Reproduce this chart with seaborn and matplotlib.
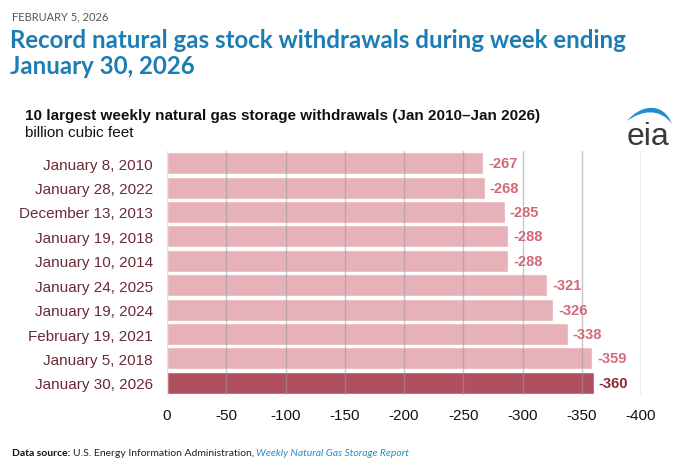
import matplotlib
matplotlib.use("Agg")
import matplotlib.pyplot as plt
from matplotlib.path import Path
from matplotlib.patches import PathPatch
import seaborn as sns
import pandas as pd

# data (billion cubic feet)
weeks = ["January 8, 2010", "January 28, 2022", "December 13, 2013",
         "January 19, 2018", "January 10, 2014", "January 24, 2025",
         "January 19, 2024", "February 19, 2021", "January 5, 2018",
         "January 30, 2026"]
withdrawals = [-267, -268, -285, -288, -288, -321, -326, -338, -359, -360]
xticks = [0, -50, -100, -150, -200, -250, -300, -350, -400]

light = "#e6b1b8"
dark = "#b0505e"
df = pd.DataFrame({"week": weeks, "bcf": withdrawals})
df["latest"] = ["no"] * (len(weeks) - 1) + ["yes"]

sns.set_style("white")
plt.rcParams["font.family"] = ["Liberation Sans", "DejaVu Sans"]

fig = plt.figure(figsize=(6.8, 4.77), dpi=100)
ax = fig.add_axes([167 / 680, 1 - 396 / 477, 474 / 680, 244 / 477])

sns.barplot(data=df, x="bcf", y="week", hue="latest",
            palette={"no": light, "yes": dark}, width=0.9,
            legend=False, saturation=1, ax=ax, zorder=1)

ax.set_xlim(0, -400)
ax.set_xticks(xticks)
ax.set_xticklabels([str(t) for t in xticks], fontsize=11, color="#111111")
ax.tick_params(axis="x", length=0, pad=9)
ax.tick_params(axis="y", length=0, pad=10, labelsize=11, labelcolor="#6b2a35")
ax.set_xlabel("")
ax.set_ylabel("")
for s in ax.spines.values():
    s.set_visible(False)

for t in xticks:
    if t == 0:
        ax.axvline(t, color="#cfcfcf", lw=1, alpha=0.6, zorder=3)
    else:
        ax.axvline(t, color="#9a9a9a", lw=1, alpha=0.55 if t > -400 else 0.9, zorder=3)

for i, v in enumerate(withdrawals):
    last = i == len(withdrawals) - 1
    ax.text(v - 4, i, str(v), va="center", ha="left", fontsize=10.5,
            color="#8c2535" if last else "#d06a78",
            fontweight="bold", zorder=4)

# header
fig.text(12 / 680, 1 - 17 / 477, "FEBRUARY 5, 2026", fontsize=8, color="#555555",
         family=["Lato", "DejaVu Sans"], va="center")
fig.text(10 / 680, 1 - 41 / 477, "Record natural gas stock withdrawals during week ending",
         fontsize=17.3, color="#1b7db4", fontweight="bold",
         family=["Lato", "DejaVu Sans"], va="center")
fig.text(10 / 680, 1 - 66 / 477, "January 30, 2026",
         fontsize=17.3, color="#1b7db4", fontweight="bold",
         family=["Lato", "DejaVu Sans"], va="center")
fig.text(25 / 680, 1 - 116 / 477,
         "10 largest weekly natural gas storage withdrawals (Jan 2010\u2013Jan 2026)",
         fontsize=11, fontweight="bold", color="#111111", va="center")
fig.text(25 / 680, 1 - 133 / 477, "billion cubic feet", fontsize=11,
         color="#111111", va="center")

# eia logo
fig.text(648 / 680, 1 - 145 / 477, "eia", fontsize=23, color="#3a3a3a",
         ha="center", va="baseline")
verts = [(627, 122), (640, 106), (663, 102), (672, 125),
         (660, 109), (642, 111), (627, 122)]
verts = [(x / 680, 1 - y / 477) for x, y in verts]
codes = [Path.MOVETO, Path.CURVE4, Path.CURVE4, Path.CURVE4,
         Path.CURVE4, Path.CURVE4, Path.CURVE4]
fig.add_artist(PathPatch(Path(verts, codes), transform=fig.transFigure,
                         facecolor="#1b8fd0", edgecolor="none"))

# footer
foot_y = 1 - 454 / 477
t1 = fig.text(12 / 680, foot_y, "Data source: ", fontsize=7.5, fontweight="bold",
              color="#111111", family=["Lato", "DejaVu Sans"], va="center")
fig.canvas.draw()
r = fig.canvas.get_renderer()
bb = t1.get_window_extent(r)
t2 = fig.text(bb.x1 / fig.bbox.width, foot_y,
              "U.S. Energy Information Administration, ", fontsize=7.5,
              color="#222222", family=["Lato", "DejaVu Sans"], va="center")
bb = t2.get_window_extent(r)
fig.text(bb.x1 / fig.bbox.width, foot_y, "Weekly Natural Gas Storage Report",
         fontsize=7.5, color="#2a8cc0", style="italic",
         family=["Lato", "DejaVu Sans"], va="center")

fig.savefig("out.png", dpi=100)
